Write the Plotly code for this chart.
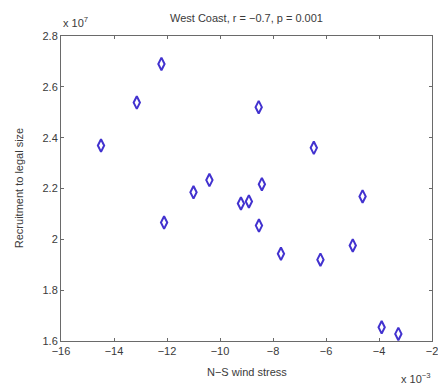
import plotly.graph_objects as go

# N-S wind stress (units of 1e-3) and recruitment to legal size (units of 1e7)
wind_stress = [-14.49, -13.14, -12.21, -12.11, -11.00, -10.40, -9.21, -8.91, -8.54,
               -8.42, -8.53, -7.70, -6.46, -6.21, -4.62, -4.99, -3.90, -3.27]
recruitment = [2.369, 2.538, 2.690, 2.066, 2.185, 2.233, 2.141, 2.149, 2.520,
               2.217, 2.054, 1.943, 2.360, 1.920, 2.169, 1.976, 1.654, 1.628]

x_ticks = [-16, -14, -12, -10, -8, -6, -4, -2]
y_ticks = [1.6, 1.8, 2.0, 2.2, 2.4, 2.6, 2.8]

font_family = "Liberation Sans, Arial, sans-serif"
text_color = "#3a3a3a"
axis_color = "#6a6a6a"

fig = go.Figure(
    go.Scatter(
        x=wind_stress,
        y=recruitment,
        mode="markers",
        marker=dict(symbol="diamond-tall-open", size=9, color="#4232cf",
                    line=dict(width=2, color="#4232cf")),
        showlegend=False,
    )
)

axis_common = dict(
    showgrid=False,
    zeroline=False,
    showline=True,
    linecolor=axis_color,
    linewidth=1,
    mirror="ticks",
    ticks="inside",
    ticklen=3,
    tickcolor=axis_color,
    ticklabeloverflow="allow",
    tickfont=dict(family=font_family, size=11, color=text_color),
)

fig.update_xaxes(range=[-16, -2], tickvals=x_ticks, **axis_common)
fig.update_yaxes(range=[1.6, 2.8], tickvals=y_ticks, **axis_common)

fig.update_layout(
    width=438,
    height=387,
    margin=dict(l=61, r=0, t=36, b=46),
    paper_bgcolor="white",
    plot_bgcolor="white",
    font=dict(family=font_family, size=11, color=text_color),
    annotations=[
        dict(text="West Coast, r = \u22120.7, p = 0.001", xref="paper", yref="paper",
             x=0.5, y=1.059, xanchor="center", yanchor="middle", showarrow=False,
             font=dict(size=11)),
        dict(text="x 10<sup>7</sup>", xref="paper", yref="paper",
             x=0.0, y=1.046, xanchor="left", yanchor="middle", showarrow=False,
             font=dict(size=11)),
        dict(text="x 10<sup>\u22123</sup>", xref="paper", yref="paper",
             x=0.91, y=-0.122, xanchor="left", yanchor="middle", showarrow=False,
             font=dict(size=11)),
        dict(text="N\u2212S wind stress", xref="paper", yref="paper",
             x=0.5, y=-0.1, xanchor="center", yanchor="middle", showarrow=False,
             font=dict(size=11)),
        dict(text="Recruitment to legal size", xref="paper", yref="paper",
             x=-0.114, y=0.5, xanchor="center", yanchor="middle", showarrow=False,
             textangle=-90, font=dict(size=11)),
    ],
)

fig.write_html("out.html")
